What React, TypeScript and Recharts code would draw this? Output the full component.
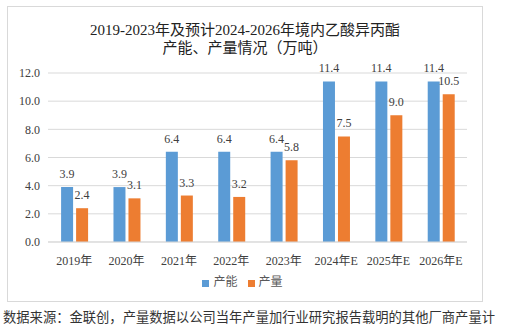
import { Bar, BarChart, CartesianGrid, LabelList, Legend, XAxis, YAxis } from "recharts";

const years = ["2019年", "2020年", "2021年", "2022年", "2023年", "2024年E", "2025年E", "2026年E"];
const capacity = [3.9, 3.9, 6.4, 6.4, 6.4, 11.4, 11.4, 11.4];
const output = [2.4, 3.1, 3.3, 3.2, 5.8, 7.5, 9.0, 10.5];
const yTicks = [0, 2, 4, 6, 8, 10, 12];

const data = years.map((year, i) => ({ year, 产能: capacity[i], 产量: output[i] }));

const serif = '"Liberation Serif", "Times New Roman", "Noto Sans CJK SC", serif';
const BLUE = "#5B9BD5";
const ORANGE = "#ED7D31";

export default function App() {
  return (
    <div
      style={{
        position: "absolute",
        left: 0,
        top: 0,
        width: 510,
        height: 328,
        background: "#fff",
        fontFamily: serif,
        overflow: "hidden",
      }}
    >
      <div
        style={{
          position: "absolute",
          left: 7,
          top: 6,
          width: 476,
          height: 296,
          border: "1px solid #d9d9d9",
          boxSizing: "border-box",
        }}
      />
      <div
        style={{
          position: "absolute",
          left: 7,
          top: 21,
          width: 476,
          textAlign: "center",
          fontSize: 15,
          lineHeight: "18px",
          color: "#222",
        }}
      >
        2019-2023年及预计2024-2026年境内乙酸异丙酯
        <br />
        产能、产量情况（万吨）
      </div>
      <div style={{ position: "absolute", left: 0, top: 0 }}>
        <BarChart
          width={510}
          height={300}
          data={data}
          margin={{ top: 73, right: 43, bottom: 8, left: 0 }}
          barCategoryGap="25%"
          barGap={3}
        >
          <CartesianGrid vertical={false} stroke="#d9d9d9" />
          <XAxis
            dataKey="year"
            height={30}
            tickLine={false}
            axisLine={{ stroke: "#d9d9d9" }}
            tickMargin={8}
            tick={{ fill: "#404040", fontSize: 12, fontFamily: serif }}
            interval={0}
          />
          <YAxis
            width={48}
            domain={[0, 12]}
            ticks={yTicks}
            tickFormatter={(v) => v.toFixed(1)}
            axisLine={false}
            tickLine={false}
            tickSize={0}
            tickMargin={8}
            tick={{ fill: "#404040", fontSize: 12, fontFamily: serif }}
          />
          <Legend
            verticalAlign="bottom"
            height={20}
            iconType="square"
            iconSize={7}
            wrapperStyle={{ fontSize: 12, color: "#595959", fontFamily: serif, left: 14 }}
            formatter={(value) => <span style={{ color: "#595959" }}>{value}</span>}
          />
          <Bar dataKey="产能" fill={BLUE} isAnimationActive={false}>
            <LabelList
              dataKey="产能"
              position="top"
              offset={9}
              formatter={(v: number) => v.toFixed(1)}
              style={{ fill: "#404040", fontSize: 12, fontFamily: serif }}
            />
          </Bar>
          <Bar dataKey="产量" fill={ORANGE} isAnimationActive={false}>
            <LabelList
              dataKey="产量"
              position="top"
              offset={9}
              formatter={(v: number) => v.toFixed(1)}
              style={{ fill: "#404040", fontSize: 12, fontFamily: serif }}
            />
          </Bar>
        </BarChart>
      </div>
      <div
        style={{
          position: "absolute",
          left: 3,
          top: 309,
          fontSize: 13.3,
          lineHeight: "18px",
          color: "#333",
          whiteSpace: "nowrap",
        }}
      >
        数据来源：金联创，产量数据以公司当年产量加行业研究报告载明的其他厂商产量计
      </div>
    </div>
  );
}
